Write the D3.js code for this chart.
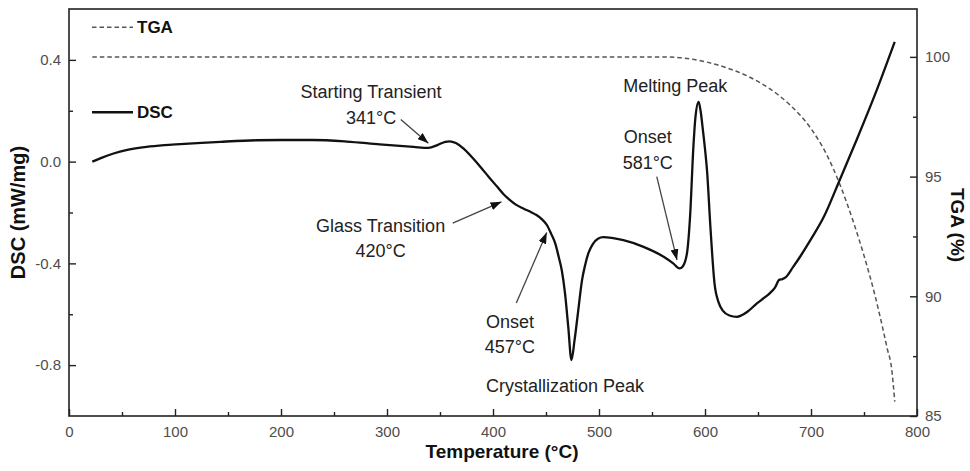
<!DOCTYPE html>
<html>
<head>
<meta charset="utf-8">
<script src="https://cdn.jsdelivr.net/npm/d3@7"></script>
<style>
  html, body { margin: 0; padding: 0; background: #fff; }
  svg { display: block; font-family: "Liberation Sans", Arial, sans-serif; }
</style>
</head>
<body>
<svg id="chart" width="970" height="471"></svg>
<script>
// DSC heat flow (mW/mg) against temperature (°C)
const dscTemp = [22, 30, 42, 55, 73, 90, 105, 125, 143, 177, 200, 230, 262, 293, 325, 339,
  348, 355, 359, 365, 372, 380, 388, 396, 404, 410, 416, 422, 429, 436, 441, 446, 451,
  455, 459, 462, 465, 468, 471, 474, 477, 480, 484, 487, 490, 494, 499, 504, 512, 523,
  542, 561, 570, 576, 579, 583, 586, 589, 591, 594, 596, 598, 600, 602, 605, 609, 613,
  617, 623, 630, 640, 649, 656, 661, 666, 670, 673, 676, 683, 690, 700, 712, 727, 743,
  762, 779];
const dscValue = [0.000, 0.014, 0.032, 0.046, 0.058, 0.065, 0.069, 0.074, 0.078, 0.084,
  0.085, 0.085, 0.079, 0.068, 0.058, 0.054, 0.066, 0.078, 0.080, 0.073, 0.052, 0.018,
  -0.020, -0.060, -0.099, -0.128, -0.151, -0.170, -0.185, -0.199, -0.210, -0.226, -0.250,
  -0.285, -0.325, -0.375, -0.430, -0.520, -0.650, -0.780, -0.700, -0.600, -0.466, -0.405,
  -0.360, -0.325, -0.303, -0.297, -0.300, -0.309, -0.335, -0.374, -0.400, -0.420, -0.412,
  -0.360, -0.210, 0.055, 0.175, 0.235, 0.195, 0.125, 0.050, -0.040, -0.250, -0.480,
  -0.555, -0.587, -0.605, -0.610, -0.590, -0.557, -0.535, -0.518, -0.495, -0.465, -0.462,
  -0.455, -0.415, -0.372, -0.305, -0.218, -0.073, 0.085, 0.281, 0.471];

// TGA mass (%) against temperature (°C)
const tgaTemp = [22, 560, 580, 600, 620, 640, 660, 680, 700, 715, 727, 740, 750, 760,
  767, 772, 776, 779];
const tgaValue = [100.0, 100.0, 99.95, 99.8, 99.55, 99.2, 98.7, 98.0, 97.0, 95.9, 94.7,
  93.1, 91.7, 90.1, 88.8, 87.8, 87.0, 85.6];

// Axis ticks
const tempTicks = [0, 100, 200, 300, 400, 500, 600, 700, 800];
const tempTickLabels = ["0", "100", "200", "300", "400", "500", "600", "700", "800"];
const tempMinor = [50, 150, 250, 350, 450, 550, 650, 750];
const dscTicks = [-0.8, -0.4, 0.0, 0.4];
const dscTickLabels = ["-0.8", "-0.4", "0.0", "0.4"];
const dscMinor = [-0.6, -0.2, 0.2];
const tgaTicks = [85, 90, 95, 100];
const tgaTickLabels = ["85", "90", "95", "100"];
const tgaMinor = [87.5, 92.5, 97.5];

// Annotations placed in data space (temperature, DSC value)
const noteLines = [
  ["Starting Transient", "341°C"],
  ["Glass Transition", "420°C"],
  ["Onset", "457°C"],
  ["Crystallization Peak"],
  ["Melting Peak"],
  ["Onset", "581°C"]
];
const noteAt = [[285, 0.25], [294, -0.276], [416, -0.654], [468, -0.905], [572, 0.275], [546, 0.072]];
const arrowFrom = [[313, 0.166], [362, -0.242], [422, -0.556], null, null, [554.5, -0.059]];
const arrowTo = [[339, 0.072], [408, -0.158], [450.7, -0.279], null, null, [573.6, -0.387]];

const svg = d3.select("#chart");
const plotL = 69, plotR = 917, plotT = 9, plotB = 416;

const x = d3.scaleLinear().domain([0, 800]).range([plotL, plotR]);
const yL = d3.scaleLinear().domain([-1.0, 0.6]).range([plotB, plotT]);
const yR = d3.scaleLinear().domain([85, 102]).range([plotB, plotT]);

// Arrowhead
svg.append("defs").append("marker")
  .attr("id", "head").attr("markerUnits", "userSpaceOnUse")
  .attr("viewBox", "0 0 11 8").attr("markerWidth", 11).attr("markerHeight", 8)
  .attr("refX", 11).attr("refY", 4).attr("orient", "auto")
  .append("path").attr("d", "M0,0 L11,4 L0,8 Z").attr("fill", "#111");

// Axes with inward ticks
const tickFont = g => g.selectAll("text")
  .attr("font-size", 15).attr("fill", "#4d4d4d")
  .attr("font-family", "'Liberation Sans', Arial, sans-serif");

svg.append("g").attr("transform", `translate(0,${plotB})`)
  .call(d3.axisBottom(x).tickValues(tempTicks).tickFormat((d, i) => tempTickLabels[i])
    .tickSize(-7).tickPadding(10))
  .call(tickFont);
svg.append("g").attr("transform", `translate(0,${plotB})`)
  .call(d3.axisBottom(x).tickValues(tempMinor).tickFormat("").tickSize(-4));

svg.append("g").attr("transform", `translate(${plotL},0)`)
  .call(d3.axisLeft(yL).tickValues(dscTicks).tickFormat((d, i) => dscTickLabels[i])
    .tickSize(-7).tickPadding(8))
  .call(tickFont);
svg.append("g").attr("transform", `translate(${plotL},0)`)
  .call(d3.axisLeft(yL).tickValues(dscMinor).tickFormat("").tickSize(-4));

svg.append("g").attr("transform", `translate(${plotR},0)`)
  .call(d3.axisRight(yR).tickValues(tgaTicks).tickFormat((d, i) => tgaTickLabels[i])
    .tickSize(-7).tickPadding(8))
  .call(tickFont);
svg.append("g").attr("transform", `translate(${plotR},0)`)
  .call(d3.axisRight(yR).tickValues(tgaMinor).tickFormat("").tickSize(-4));

svg.selectAll(".domain").remove();
svg.selectAll(".tick line").attr("stroke", "#222").attr("stroke-width", 1.4);

// Plot frame
svg.append("rect").attr("x", plotL).attr("y", plotT)
  .attr("width", plotR - plotL).attr("height", plotB - plotT)
  .attr("fill", "none").attr("stroke", "#222").attr("stroke-width", 1.6);

// TGA curve (dashed)
svg.append("path")
  .datum(d3.zip(tgaTemp, tgaValue))
  .attr("fill", "none").attr("stroke", "#555").attr("stroke-width", 1.5)
  .attr("stroke-dasharray", "4.5,3")
  .attr("d", d3.line().x(d => x(d[0])).y(d => yR(d[1])).curve(d3.curveMonotoneX));

// DSC curve (solid)
svg.append("path")
  .datum(d3.zip(dscTemp, dscValue))
  .attr("fill", "none").attr("stroke", "#111").attr("stroke-width", 2.3)
  .attr("stroke-linejoin", "round")
  .attr("d", d3.line().x(d => x(d[0])).y(d => yL(d[1])).curve(d3.curveMonotoneX));

// Annotation arrows and labels
noteLines.forEach((lines, i) => {
  if (arrowFrom[i]) {
    svg.append("line")
      .attr("x1", x(arrowFrom[i][0])).attr("y1", yL(arrowFrom[i][1]))
      .attr("x2", x(arrowTo[i][0])).attr("y2", yL(arrowTo[i][1]))
      .attr("stroke", "#444").attr("stroke-width", 1.3)
      .attr("marker-end", "url(#head)");
  }
  const t = svg.append("text")
    .attr("x", x(noteAt[i][0])).attr("y", yL(noteAt[i][1]))
    .attr("text-anchor", "middle").attr("font-size", 18).attr("fill", "#222");
  lines.forEach((s, j) => {
    t.append("tspan").attr("x", x(noteAt[i][0])).attr("dy", j === 0 ? 0 : 25.5).text(s);
  });
});

// Legend
const legend = [
  { name: "TGA", y: 27.3, dash: "4.5,3", color: "#555", width: 1.5 },
  { name: "DSC", y: 112.3, dash: null, color: "#111", width: 2.5 }
];
legend.forEach(l => {
  svg.append("line").attr("x1", 92).attr("x2", 133).attr("y1", l.y).attr("y2", l.y)
    .attr("stroke", l.color).attr("stroke-width", l.width)
    .attr("stroke-dasharray", l.dash);
  svg.append("text").attr("x", 137).attr("y", l.y + 6)
    .attr("font-size", 17).attr("font-weight", "bold").attr("fill", "#111").text(l.name);
});

// Axis titles
svg.append("text").attr("x", 502).attr("y", 458).attr("text-anchor", "middle")
  .attr("font-size", 19).attr("font-weight", "bold").attr("fill", "#111")
  .text("Temperature (°C)");
svg.append("text").attr("transform", `translate(25,${(plotT + plotB) / 2}) rotate(-90)`)
  .attr("text-anchor", "middle").attr("font-size", 20).attr("font-weight", "bold")
  .attr("fill", "#111").text("DSC (mW/mg)");
svg.append("text").attr("transform", "translate(951,225) rotate(90)")
  .attr("text-anchor", "middle").attr("font-size", 19).attr("font-weight", "bold")
  .attr("fill", "#111").text("TGA (%)");
</script>
</body>
</html>
